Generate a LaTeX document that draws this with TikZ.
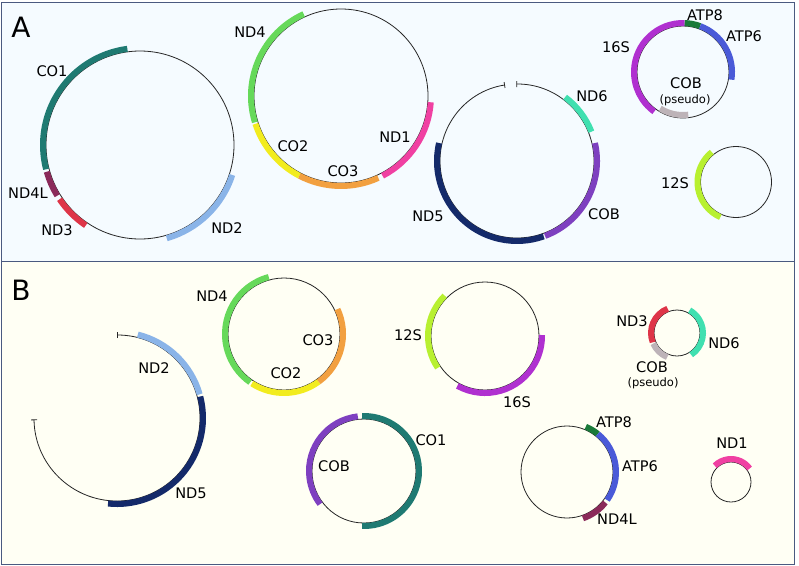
\documentclass[tikz,border=0pt]{standalone}
\usepackage{fontspec}
\setmainfont{DejaVu Sans}
\usetikzlibrary{arrows.meta}
\definecolor{frame}{HTML}{4A5A80}
\definecolor{bgA}{HTML}{F5FBFF}
\definecolor{bgB}{HTML}{FFFFF4}
\definecolor{cCO1}{HTML}{1F7A72}
\definecolor{cND4L}{HTML}{8B2A5A}
\definecolor{cND3}{HTML}{DE3548}
\definecolor{cND2}{HTML}{8AB4E8}
\definecolor{cND4}{HTML}{66D95A}
\definecolor{cCO2}{HTML}{F2EC1E}
\definecolor{cCO3}{HTML}{F2A040}
\definecolor{cND1}{HTML}{F040A2}
\definecolor{cND6}{HTML}{40E0B0}
\definecolor{cCOB}{HTML}{7E40C0}
\definecolor{cND5}{HTML}{142A6A}
\definecolor{c16S}{HTML}{B030D0}
\definecolor{cATP8}{HTML}{1A7A3A}
\definecolor{cATP6}{HTML}{4A5AD8}
\definecolor{cPseudo}{HTML}{BDB3B8}
\definecolor{c12S}{HTML}{B8F030}
\begin{document}
\begin{tikzpicture}[x=1pt, y=1pt,
  every node/.style={inner sep=0pt, font=\fontsize{14.6}{16}\selectfont},
  genome/.style={draw=black!85, line width=0.8pt},
  gene/.style={line width=6pt},
  ends/.style={{Bar[width=6pt]}-{Bar[width=6pt]}},
  tag/.style={font=\fontsize{28}{30}\selectfont},
  small/.style={font=\fontsize{11.5}{13}\selectfont}]
\useasboundingbox (0,0) rectangle (799,-565);
% panels
\fill[bgA] (1.5,-2.5) rectangle (794.5,-261.5);
\fill[bgB] (1.5,-261.5) rectangle (794.5,-564);
\draw[frame, line width=1pt] (1.5,-2.5) rectangle (794.5,-261.5);
\draw[frame, line width=1pt] (1.5,-261.5) rectangle (794.5,-564);
\node[tag] (tagA) at (21,-27) {A};
\node[tag] (tagB) at (21,-290) {B};

% ---- panel A ----
\coordinate (a1) at (140,-145);
\coordinate (a2) at (341,-96);
\coordinate (a3) at (517,-161);
\coordinate (a4) at (683,-72);
\coordinate (a5) at (736,-182);

\draw[genome] (a1) circle[radius=94];
\draw[gene, cCO1] (a1) ++(97.5:97) arc[start angle=97.5, end angle=194.5, radius=97];
\draw[gene, cND4L] (a1) ++(196:97) arc[start angle=196, end angle=211.5, radius=97];
\draw[gene, cND3] (a1) ++(214:97) arc[start angle=214, end angle=236, radius=97];
\draw[gene, cND2] (a1) ++(286:97) arc[start angle=286, end angle=342, radius=97];
\node (co1A) at (52,-71) {CO1};
\node (nd4lA) at (28,-193) {ND4L};
\node (nd3A) at (57,-230) {ND3};
\node (nd2A) at (227,-228) {ND2};

\draw[genome] (a2) circle[radius=87];
\draw[gene, cND4] (a2) ++(114.5:90) arc[start angle=114.5, end angle=197, radius=90];
\draw[gene, cCO2] (a2) ++(198:90) arc[start angle=198, end angle=242.5, radius=90];
\draw[gene, cCO3] (a2) ++(242.5:90) arc[start angle=242.5, end angle=294.5, radius=90];
\draw[gene, cND1] (a2) ++(297.5:90) arc[start angle=297.5, end angle=356, radius=90];
\node (nd4A) at (250,-32) {ND4};
\node (co2A) at (293,-146) {CO2};
\node (co3A) at (343,-171) {CO3};
\node (nd1A) at (395,-137) {ND1};

\draw[genome, ends] (a3) ++(99:77) arc[start angle=99, end angle=450.5, radius=77];
\draw[gene, cND6] (a3) ++(21.5:80) arc[start angle=21.5, end angle=53, radius=80];
\draw[gene, cCOB] (a3) ++(-69.5:80) arc[start angle=-69.5, end angle=13, radius=80];
\draw[gene, cND5] (a3) ++(167:80) arc[start angle=167, end angle=289.5, radius=80];
\node (nd6A) at (592,-96) {ND6};
\node (cobA) at (604,-214) {COB};
\node (nd5A) at (428,-216) {ND5};

\draw[genome] (a4) circle[radius=46];
\draw[gene, c16S] (a4) ++(88:49) arc[start angle=88, end angle=234, radius=49];
\draw[gene, cATP8] (a4) ++(69.5:49) arc[start angle=69.5, end angle=88, radius=49];
\draw[gene, cATP6] (a4) ++(-9:49) arc[start angle=-9, end angle=69.5, radius=49];
\draw[gene, cPseudo] (a4) ++(238:43) arc[start angle=238, end angle=277, radius=43];
\node (atp8A) at (705,-15) {ATP8};
\node (atp6A) at (744,-36) {ATP6};
\node (s16A) at (616,-47) {16S};
\node (cobpA) at (686,-83) {COB};
\node[small] (pseA) at (685,-100) {(pseudo)};

\draw[genome] (a5) circle[radius=35.5];
\draw[gene, c12S] (a5) ++(129:38.5) arc[start angle=129, end angle=246, radius=38.5];
\node (s12A) at (675,-183) {12S};

% ---- panel B ----
\coordinate (b1) at (117,-418);
\coordinate (b2) at (284,-334);
\coordinate (b3) at (485,-336);
\coordinate (b4) at (677,-333);
\coordinate (b5) at (364,-471);
\coordinate (b6) at (567,-472);
\coordinate (b7) at (731,-482);

\draw[genome, ends] (b1) ++(90:83) arc[start angle=90, end angle=-179, radius=83];
\draw[gene, cND2] (b1) ++(76:86) arc[start angle=76, end angle=16, radius=86];
\draw[gene, cND5] (b1) ++(14.5:86) arc[start angle=14.5, end angle=-96, radius=86];
\node (nd2B) at (154,-368) {ND2};
\node (nd5B) at (191,-493) {ND5};

\draw[genome] (b2) circle[radius=56];
\draw[gene, cND4] (b2) ++(105:59) arc[start angle=105, end angle=235, radius=59];
\draw[gene, cCO2] (b2) ++(237:59) arc[start angle=237, end angle=306, radius=59];
\draw[gene, cCO3] (b2) ++(-54:59) arc[start angle=-54, end angle=25, radius=59];
\node (nd4B) at (212,-296) {ND4};
\node (co3B) at (318,-340) {CO3};
\node (co2B) at (286,-373) {CO2};

\draw[genome] (b3) circle[radius=54];
\draw[gene, c12S] (b3) ++(135:57) arc[start angle=135, end angle=214, radius=57];
\draw[gene, c16S] (b3) ++(241:57) arc[start angle=241, end angle=361, radius=57];
\node (s12B) at (408,-335) {12S};
\node (s16B) at (517,-402) {16S};

\draw[genome] (b4) circle[radius=23];
\draw[gene, cND3] (b4) ++(111:26) arc[start angle=111, end angle=201, radius=26];
\draw[gene, cPseudo] (b4) ++(204:26) arc[start angle=204, end angle=248, radius=26];
\draw[gene, cND6] (b4) ++(-57:26) arc[start angle=-57, end angle=61, radius=26];
\node (nd3B) at (632,-321) {ND3};
\node (nd6B) at (724,-343) {ND6};
\node (cobpB) at (652,-367) {COB};
\node[small] (pseB) at (653,-383) {(pseudo)};

\draw[genome] (b5) circle[radius=52];
\draw[gene, cCO1] (b5) ++(92:55) arc[start angle=92, end angle=-92, radius=55];
\draw[gene, cCOB] (b5) ++(96.5:55) arc[start angle=96.5, end angle=217, radius=55];
\node (co1B) at (431,-440) {CO1};
\node (cobB) at (334,-466) {COB};

\draw[genome] (b6) circle[radius=46];
\draw[gene, cATP8] (b6) ++(67.5:49) arc[start angle=67.5, end angle=51, radius=49];
\draw[gene, cATP6] (b6) ++(51:49) arc[start angle=51, end angle=-35, radius=49];
\draw[gene, cND4L] (b6) ++(-38.5:49) arc[start angle=-38.5, end angle=-71, radius=49];
\node (atp8B) at (614,-422) {ATP8};
\node (atp6B) at (640,-466) {ATP6};
\node (nd4lB) at (617,-519) {ND4L};

\draw[genome] (b7) circle[radius=20];
\draw[gene, cND1] (b7) ++(36:23) arc[start angle=36, end angle=135, radius=23];
\node (nd1B) at (732,-443) {ND1};
\end{tikzpicture}
\end{document}
